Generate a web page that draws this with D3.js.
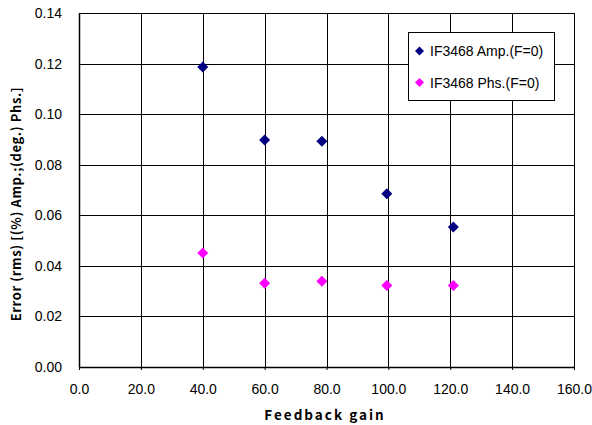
<!DOCTYPE html>
<html><head><meta charset="utf-8">
<script src="https://cdn.jsdelivr.net/npm/d3@7"></script>
<style>body{margin:0;background:#fff}</style>
</head><body>
<svg id="c" width="592" height="425"></svg>
<script>
const gains = [40, 60, 78.5, 99.5, 121];
const ampErr = [0.1186, 0.0898, 0.0893, 0.0685, 0.0554];
const phsErr = [0.0451, 0.0331, 0.0339, 0.0322, 0.0322];
const seriesNames = ["IF3468 Amp.(F=0)", "IF3468 Phs.(F=0)"];
const seriesColors = ["#000080", "#FF00FF"];
const xTicks = [0, 20, 40, 60, 80, 100, 120, 140, 160];
const yTicks = [0, 0.02, 0.04, 0.06, 0.08, 0.10, 0.12, 0.14];

const svg = d3.select("#c");
const L = 79, R = 574, T = 13, B = 367;
const x = d3.scaleLinear().domain([0,160]).range([L,R]);
const y = d3.scaleLinear().domain([0,0.14]).range([B,T]);
const tickFont = "'Liberation Sans', Arial, sans-serif";

// grid
svg.append("g").selectAll("line").data(xTicks).join("line")
  .attr("x1", d=>Math.round(x(d))+0.5).attr("x2", d=>Math.round(x(d))+0.5)
  .attr("y1", T).attr("y2", B).attr("stroke", "#000").attr("stroke-width", 1);
svg.append("g").selectAll("line").data(yTicks).join("line")
  .attr("y1", d=>Math.round(y(d))+0.5).attr("y2", d=>Math.round(y(d))+0.5)
  .attr("x1", L).attr("x2", R).attr("stroke", "#000").attr("stroke-width", 1);

// axes frame bottom/left thicker
svg.append("line").attr("x1",L).attr("x2",R).attr("y1",Math.round(y(0))+0.5).attr("y2",Math.round(y(0))+0.5).attr("stroke","#000").attr("stroke-width",1.5);
svg.append("line").attr("x1",Math.round(x(0))+0.5).attr("x2",Math.round(x(0))+0.5).attr("y1",T).attr("y2",B).attr("stroke","#000").attr("stroke-width",1.5);

// axes with labels
const xAxis = d3.axisBottom(x).tickValues(xTicks).tickFormat(d3.format(".1f")).tickSize(3).tickPadding(14);
const gx = svg.append("g").attr("transform", `translate(0,${B})`).call(xAxis);
gx.select(".domain").remove();
gx.selectAll("text").attr("font-family", tickFont).attr("font-size", 14).attr("fill","#000");

const yAxis = d3.axisLeft(y).tickValues(yTicks).tickFormat(d3.format(".2f")).tickSize(0).tickPadding(17);
const gy = svg.append("g").attr("transform", `translate(${L},0)`).call(yAxis);
gy.select(".domain").remove();
gy.selectAll("text").attr("font-family", tickFont).attr("font-size", 14).attr("fill","#000");

// markers
function diamond(cx, cy, r){ return `M${cx},${cy-r}L${cx+r},${cy}L${cx},${cy+r}L${cx-r},${cy}Z`; }
const series = [ampErr, phsErr];
series.forEach((vals, i) => {
  svg.append("g").selectAll("path").data(vals).join("path")
    .attr("d", (d, j) => diamond(x(gains[j]), y(d), 5.5))
    .attr("fill", seriesColors[i]);
});

// legend
const lg = svg.append("g");
lg.append("rect").attr("x", 408.5).attr("y", 32.5).attr("width", 146).attr("height", 68)
  .attr("fill", "#fff").attr("stroke", "#000").attr("stroke-width", 1);
seriesNames.forEach((n, i) => {
  const cy = 51 + i*31.5;
  lg.append("path").attr("d", diamond(419.5, cy, 4.5)).attr("fill", seriesColors[i]);
  lg.append("text").attr("x", 430).attr("y", cy + 5).text(n)
    .attr("font-family", tickFont).attr("font-size", 14).attr("fill", "#000");
});

// axis titles
const titleFont = "'Noto Sans CJK JP', 'DejaVu Sans', sans-serif";
svg.append("text").attr("x", 325).attr("y", 420).attr("text-anchor","middle")
  .attr("font-family", titleFont).attr("font-weight","bold").attr("font-size",13.5)
  .attr("letter-spacing", 2).text("Feedback gain");
svg.append("text").attr("transform", `translate(21,204) rotate(-90)`).attr("text-anchor","middle")
  .attr("font-family", titleFont).attr("font-weight","bold").attr("font-size",13)
  .attr("letter-spacing", 0.6).text("Error (rms) [(%) Amp.;(deg.) Phs.]");
</script>
</body></html>
